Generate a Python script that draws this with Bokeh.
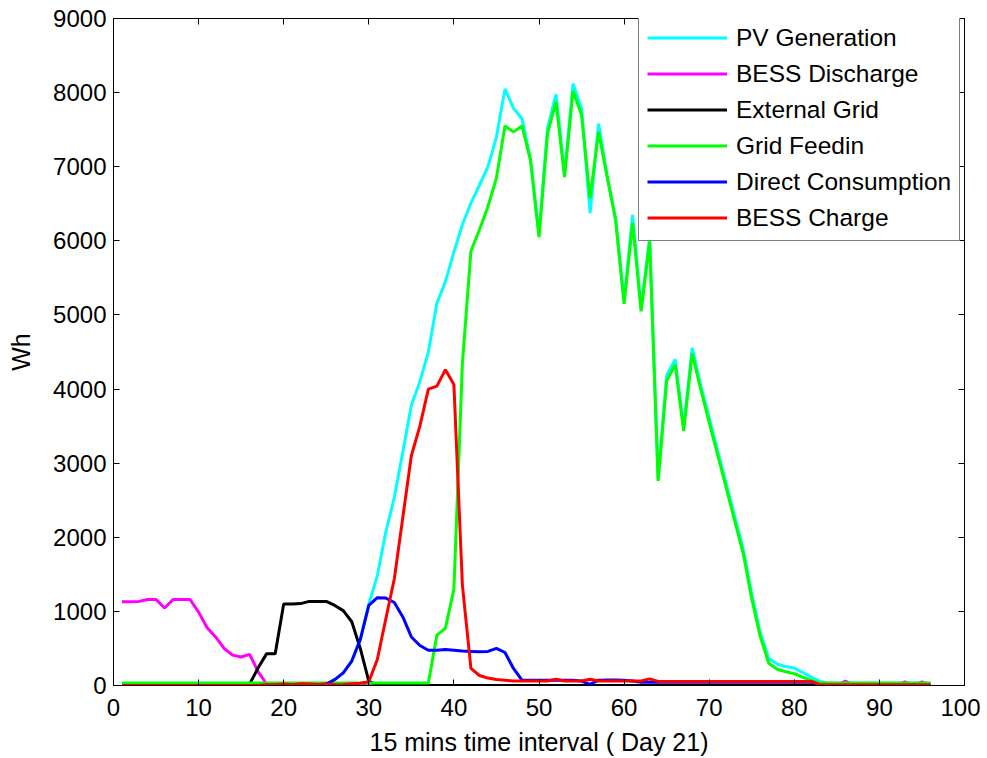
from bokeh.plotting import figure
from bokeh.models import LinearAxis, Legend, LegendItem, FixedTicker, Range1d
from bokeh.embed import file_html
from bokeh.resources import INLINE

# ---- data (15-min intervals, Day 21) ----
interval = list(range(1, 97))

pv_generation = [
    0, 0, 0, 0, 0, 0, 0, 0, 0, 0, 0, 0,
    0, 0, 0, 0, 0, 0, 0, 0, 0, 0, 0, 0,
    0, 80, 170, 330, 620, 1100, 1480, 2070, 2540, 3150, 3780, 4100,
    4500, 5160, 5450, 5850, 6220, 6510, 6750, 7000, 7400, 8050, 7790, 7650,
    7100, 6090, 7520, 7975, 6900, 8120, 7785, 6375, 7580, 6880, 6300, 5190,
    6350, 5080, 6050, 2790, 4185, 4400, 3490, 4555, 4050, 3610, 3160, 2720,
    2280, 1840, 1230, 710, 365, 290, 255, 235, 175, 115, 55, 30,
    30, 30, 30, 30, 30, 30, 30, 30, 30, 30, 30, 30,
]

bess_discharge = [
    1130, 1130, 1135, 1160, 1160, 1045, 1160, 1160, 1160, 990, 780, 655,
    500, 410, 385, 420, 185, 20, 0, 0, 0, 0, 0, 0,
    0, 0, 0, 0, 0, 0, 0, 0, 0, 0, 0, 0,
    0, 0, 0, 0, 0, 0, 0, 0, 0, 0, 0, 0,
    0, 0, 0, 0, 0, 0, 0, 0, 0, 0, 0, 0,
    0, 0, 0, 0, 0, 0, 0, 0, 0, 0, 0, 0,
    0, 0, 0, 0, 0, 0, 0, 0, 0, 0, 0, 0,
    0, 60, 0, 0, 0, 0, 0, 0, 50, 0, 50, 0,
]

external_grid = [
    0, 0, 0, 0, 0, 0, 0, 0, 0, 0, 0, 0,
    0, 0, 0, 20, 240, 430, 430, 1100, 1100, 1105, 1135, 1135,
    1135, 1080, 1010, 860, 500, 60, 0, 0, 0, 0, 0, 0,
    0, 0, 0, 0, 0, 0, 0, 0, 0, 0, 0, 0,
    0, 0, 0, 0, 0, 0, 0, 0, 0, 0, 0, 0,
    0, 0, 0, 0, 0, 0, 0, 0, 0, 0, 0, 0,
    0, 0, 0, 0, 0, 0, 0, 0, 0, 0, 0, 0,
    0, 0, 0, 0, 0, 0, 0, 0, 0, 0, 0, 0,
]

grid_feedin = [
    35, 35, 35, 35, 35, 35, 35, 35, 35, 35, 35, 35,
    35, 35, 35, 35, 35, 35, 35, 35, 35, 35, 35, 35,
    35, 35, 35, 35, 35, 35, 35, 35, 35, 35, 35, 35,
    35, 680, 770, 1300, 4350, 5860, 6150, 6460, 6850, 7550, 7470, 7550,
    7090, 6050, 7450, 7875, 6860, 8020, 7700, 6575, 7470, 6870, 6280, 5150,
    6240, 5050, 5990, 2760, 4110, 4330, 3435, 4480, 4000, 3550, 3110, 2665,
    2220, 1780, 1170, 660, 300, 220, 185, 160, 110, 70, 35, 35,
    35, 35, 35, 35, 35, 35, 35, 35, 35, 35, 35, 35,
]

direct_consumption = [
    0, 0, 0, 0, 0, 0, 0, 0, 0, 0, 0, 0,
    0, 0, 0, 0, 0, 0, 0, 0, 0, 0, 0, 0,
    20, 80, 170, 330, 620, 1080, 1185, 1180, 1120, 925, 655, 540,
    475, 475, 485, 475, 465, 460, 455, 460, 500, 445, 230, 72,
    70, 70, 72, 72, 72, 70, 60, 15, 72, 75, 75, 72,
    60, 45, 45, 45, 45, 45, 45, 45, 45, 45, 45, 45,
    45, 45, 45, 45, 45, 45, 45, 45, 45, 45, 0, 0,
    0, 0, 0, 0, 0, 0, 0, 0, 0, 0, 0, 0,
]

bess_charge = [
    0, 0, 0, 0, 0, 0, 0, 0, 0, 0, 0, 0,
    0, 0, 0, 0, 0, 15, 10, 20, 10, 25, 20, 15,
    20, 10, 15, 25, 30, 50, 350, 900, 1440, 2270, 3100, 3500,
    4000, 4040, 4260, 4060, 1350, 230, 135, 100, 80, 70, 60, 60,
    60, 60, 60, 85, 60, 60, 60, 85, 60, 60, 60, 60,
    60, 60, 90, 55, 55, 55, 55, 55, 55, 55, 55, 55,
    55, 55, 55, 55, 55, 55, 55, 55, 55, 55, 10, 10,
    10, 10, 10, 10, 10, 10, 10, 10, 10, 10, 10, 10,
]

series_names = ["PV Generation", "BESS Discharge", "External Grid",
                "Grid Feedin", "Direct Consumption", "BESS Charge"]
series_colors = ["#00FFFF", "#FF00FF", "#000000", "#00FF00", "#0000FF", "#FF0000"]
x_ticks = [0, 10, 20, 30, 40, 50, 60, 70, 80, 90, 100]
y_ticks = [0, 1000, 2000, 3000, 4000, 5000, 6000, 7000, 8000, 9000]

FONT = "Liberation Sans"

p = figure(width=980, height=758, output_backend="svg", toolbar_location=None,
           x_range=Range1d(0, 100), y_range=Range1d(0, 9000),
           min_border_left=113, min_border_right=16, min_border_top=18,
           min_border_bottom=71)
p.background_fill_color = "white"
p.border_fill_color = "white"
p.outline_line_color = "black"
p.outline_line_width = 1
p.xgrid.visible = False
p.ygrid.visible = False

for ax, ticks in ((p.xaxis[0], x_ticks), (p.yaxis[0], y_ticks)):
    ax.ticker = FixedTicker(ticks=ticks)
    ax.major_tick_in = 6
    ax.major_tick_out = 0
    ax.minor_tick_line_color = None
    ax.axis_line_color = "black"
    ax.major_tick_line_color = "black"
    ax.major_label_text_font = FONT
    ax.major_label_text_font_size = "24px"
    ax.major_label_text_color = "black"
    ax.axis_label_text_font = FONT
    ax.axis_label_text_font_size = "25px"
    ax.axis_label_text_font_style = "normal"
    ax.axis_label_text_color = "black"

p.xaxis[0].axis_label = "15 mins time interval ( Day 21)"
p.xaxis[0].major_label_standoff = 13
p.xaxis[0].axis_label_standoff = 9
p.yaxis[0].axis_label = "Wh"
p.yaxis[0].major_label_standoff = 7
p.yaxis[0].axis_label_standoff = 15

for ticks, side in ((y_ticks, "right"), (x_ticks, "above")):
    ax = LinearAxis(ticker=FixedTicker(ticks=ticks))
    ax.major_label_text_font_size = "1px"
    ax.major_label_text_color = None
    ax.major_label_standoff = 0
    ax.major_tick_in = 6
    ax.major_tick_out = 0
    ax.minor_tick_line_color = None
    ax.axis_line_color = "black"
    ax.major_tick_line_color = "black"
    p.add_layout(ax, side)

all_series = [pv_generation, bess_discharge, external_grid,
              grid_feedin, direct_consumption, bess_charge]
items = []
for name, color, ys in zip(series_names, series_colors, all_series):
    r = p.line(interval, ys, line_color=color, line_width=3)
    items.append(LegendItem(label=name, renderers=[r]))

legend = Legend(items=items, location=(525, 444))
legend.label_text_font = FONT
legend.label_text_font_size = "24.5px"
legend.label_text_color = "black"
legend.glyph_width = 80
legend.glyph_height = 29
legend.label_height = 29
legend.spacing = 7
legend.padding = 8
legend.margin = 0
legend.label_standoff = 9
legend.border_line_color = "black"
legend.border_line_width = 1
legend.background_fill_color = "white"
legend.background_fill_alpha = 1.0
p.add_layout(legend)

open("out.html", "w").write(file_html(p, INLINE))
